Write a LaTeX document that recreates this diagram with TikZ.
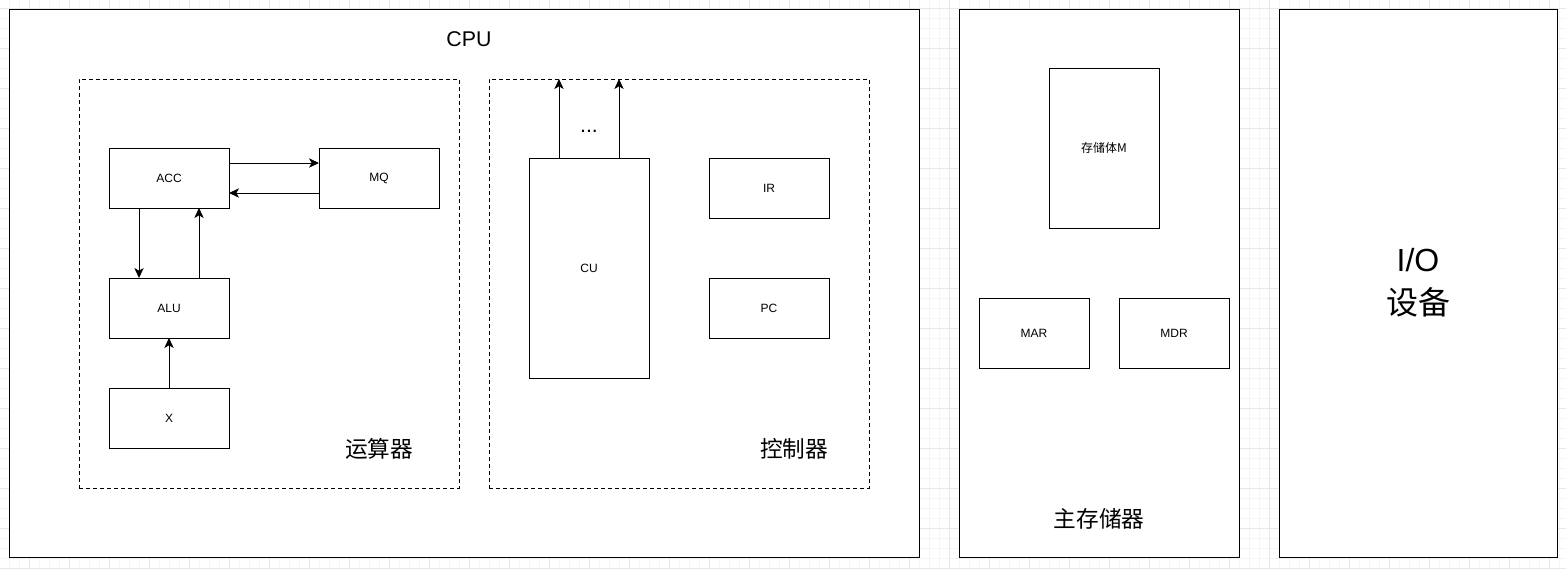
\documentclass[tikz,border=0pt]{standalone}
\usepackage{fontspec}
\setmainfont{Liberation Sans}
\newfontfamily\cjk{Noto Sans CJK SC}
\usepackage{xcolor}
\usetikzlibrary{positioning,arrows.meta}

\definecolor{gridminor}{HTML}{F5F5F5}
\definecolor{gridmajor}{HTML}{E8E8E8}

\begin{document}
\begin{tikzpicture}[x=0.75pt,y=-0.75pt,line width=0.75pt,
    >={Stealth[length=7.5pt,width=7pt,inset=2pt]},
    frame/.style={draw,fill=white,inner sep=0pt,outer sep=0pt},
    unit/.style={frame,minimum width=90pt,minimum height=45pt,font=\fontsize{9}{11}\selectfont},
    memunit/.style={frame,minimum width=82.5pt,minimum height=52.5pt,font=\fontsize{9}{11}\selectfont},
    group/.style={draw,dash pattern=on 3pt off 2.25pt,inner sep=0pt,outer sep=0pt,
        minimum width=285pt,minimum height=306.75pt},
    title/.style={font=\cjk\fontsize{17}{20}\selectfont}]
    \useasboundingbox (0,0) rectangle (1566,568);

    % background grid
    \foreach \gx in {9,19,...,1559} \draw[gridminor] (\gx,0) -- (\gx,568);
    \foreach \gy in {8,18,...,568} \draw[gridminor] (0,\gy) -- (1566,\gy);
    \foreach \gx in {29,69,...,1549} \draw[gridmajor] (\gx,0) -- (\gx,568);
    \foreach \gy in {8,48,...,568} \draw[gridmajor] (0,\gy) -- (1566,\gy);

    % CPU
    \node[frame,minimum width=682.5pt,minimum height=411pt] (cpu) at (464,283) {};
    \node[font=\fontsize{16}{19}\selectfont] (cpulabel) at (469,39) {CPU};
    \node[group] (alugroup) at (269,283.5) {};
    \node[group] (ctlgroup) at (679,283.5) {};
    \node[title] (alulabel) at (379,449) {运算器};
    \node[title] (ctllabel) at (794,449) {控制器};

    \node[unit] (acc) at (169,178) {ACC};
    \node[unit] (mq) [right=67.5pt of acc] {MQ};
    \node[unit] (alu) [below=52.5pt of acc] {ALU};
    \node[unit] (x) [below=37.5pt of alu] {X};

    \node[unit,minimum height=165pt] (cu) at (589,268) {CU};
    \node[unit] (ir) at (769,188) {IR};
    \node[unit] (pc) [below=45pt of ir] {PC};
    \node[font=\fontsize{16}{18}\selectfont] (dots) at (589,131) {...};

    \draw[->] ([yshift=11.25pt]acc.east) -- ([yshift=11.25pt]mq.west);
    \draw[->] ([yshift=-11.25pt]mq.west) -- ([yshift=-11.25pt]acc.east);
    \draw[->] ([xshift=-22.5pt]acc.south) -- ([xshift=-22.5pt]alu.north);
    \draw[->] ([xshift=22.5pt]alu.north) -- ([xshift=22.5pt]acc.south);
    \draw[->] (x) -- (alu);

    \coordinate (cuout1) at ([xshift=-22.5pt]cu.north);
    \coordinate (cuout2) at ([xshift=22.5pt]cu.north);
    \draw[->] (cuout1) -- (cuout1 |- ctlgroup.north);
    \draw[->] (cuout2) -- (cuout2 |- ctlgroup.north);

    % main memory
    \node[frame,minimum width=210pt,minimum height=411pt] (mem) at (1099,283) {};
    \node[title] (memlabel) at (1099,519) {主存储器};
    \node[frame,minimum width=82.5pt,minimum height=120pt,font=\cjk\fontsize{9}{11}\selectfont] (bank) at (1104,148) {存储体M};
    \node[memunit] (mar) at (1034,333) {MAR};
    \node[memunit] (mdr) [right=22.5pt of mar] {MDR};

    % I/O
    \node[frame,minimum width=208.5pt,minimum height=411pt,align=center,
        font=\fontsize{24}{32}\selectfont] (io) at (1418,283) {I/O\\{\cjk 设备}};
\end{tikzpicture}
\end{document}
